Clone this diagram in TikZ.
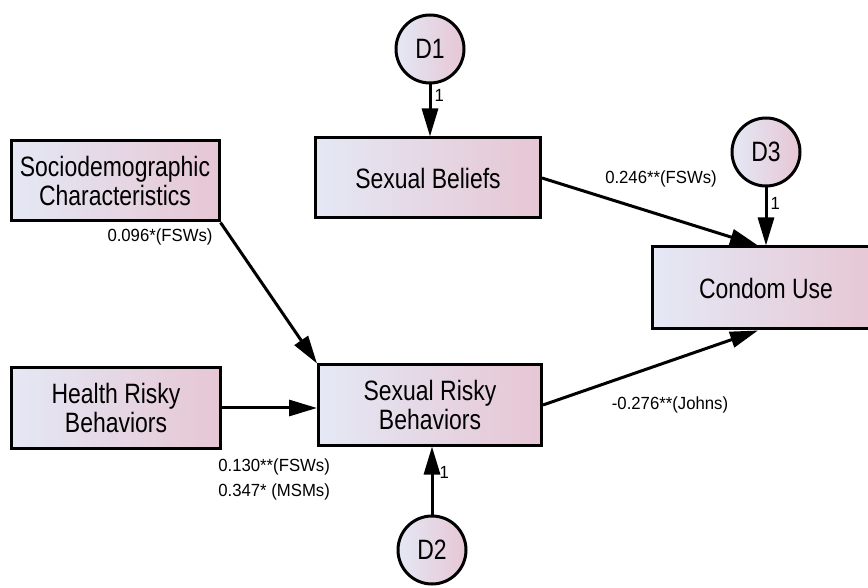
\documentclass[tikz,border=0pt]{standalone}
\usepackage{fontspec}
\setmainfont{Liberation Sans}[FakeStretch=0.82]
\newfontfamily\coeffont{Liberation Sans}[FakeStretch=0.95]
\usetikzlibrary{arrows.meta}
\definecolor{shadeleft}{HTML}{E5E8F5}
\definecolor{shaderight}{HTML}{E6C6D4}
\tikzset{
	var/.style={draw,line width=1.5pt,rectangle,left color=shadeleft,right color=shaderight,
		minimum height=40pt,inner sep=0pt,align=center,font=\fontsize{14}{13}\selectfont},
	err/.style={draw,line width=1.5pt,circle,left color=shadeleft,right color=shaderight,
		minimum size=34pt,inner sep=0pt,font=\fontsize{14}{13}\selectfont},
	effect/.style={line width=1.5pt,-{Triangle[length=14pt,width=8pt]}},
	coef/.style={inner sep=0pt,font=\coeffont\fontsize{8.8}{12}\selectfont},
}
\begin{document}
\begin{tikzpicture}[x=0.5pt,y=-0.5pt]
	\useasboundingbox (0,0) rectangle (868,588);
	% observed variables
	\node[var,minimum width=104pt] (socio) at (115,181) {Sociodemographic\\Characteristics};
	\node[var,minimum width=104.5pt] (health) at (116,408) {Health Risky\\Behaviors};
	\node[var,minimum width=112.5pt] (belief) at (428,178) {Sexual Beliefs};
	\node[var,minimum width=111.5pt] (risky) at (430,405) {Sexual Risky\\Behaviors};
	\node[var,minimum width=113.5pt,minimum height=41pt] (condom) at (766,288) {Condom Use};
	% disturbances
	\node[err] (d1) at (430,49) {D1};
	\node[err] (d2) at (432,550) {D2};
	\node[err] (d3) at (766,152) {D3};
	% paths
	\draw[effect] (d1) -- (d1 |- belief.north) node[coef,pos=0.22,right=1.5pt] {1};
	\draw[effect] (d3) -- (condom.north) node[coef,pos=0.28,right=1.5pt] {1};
	\draw[effect] (d2) -- (d2 |- risky.south) node[coef,pos=0.62,right=3pt] {1};
	\draw[effect] (socio.south east) -- (risky.north west);
	\draw[effect] (health.east) -- (health.east -| risky.west);
	\draw[effect] (belief.east) -- ([xshift=-4pt]condom.north);
	\draw[effect] (risky.east) -- ([xshift=-4pt]condom.south);
	% coefficients
	\node[coef] (b1) at (160,237) {0.096*(FSWs)};
	\node[coef] (b2) at (661,179) {0.246**(FSWs)};
	\node[coef] (b3) at (670,405) {-0.276**(Johns)};
	\node[coef,anchor=west] (b4) at (218,467) {0.130**(FSWs)};
	\node[coef,anchor=west] (b5) at (218,492) {0.347* (MSMs)};
\end{tikzpicture}
\end{document}
